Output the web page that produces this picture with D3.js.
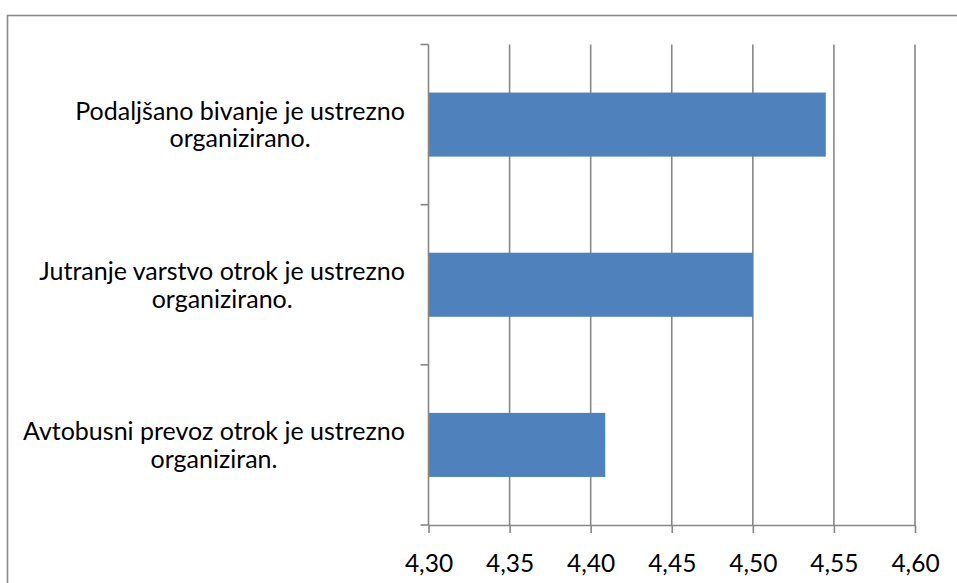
<!DOCTYPE html>
<html>
<head>
<meta charset="utf-8">
<script src="https://cdn.jsdelivr.net/npm/d3@7"></script>
<style>
  html, body { margin: 0; padding: 0; background: #fff; }
  svg { display: block; }
  text { font-family: Lato, "Open Sans", sans-serif; fill: #000; }
</style>
</head>
<body>
<svg id="chart" width="957" height="583"></svg>
<script>
const categories = [
  ["Podaljšano bivanje je ustrezno", "organizirano."],
  ["Jutranje varstvo otrok je ustrezno", "organizirano."],
  ["Avtobusni prevoz otrok je ustrezno", "organiziran."]
];
const values = [4.545, 4.50, 4.409];
const tickValues = [4.30, 4.35, 4.40, 4.45, 4.50, 4.55, 4.60];
const tickLabels = ["4,30", "4,35", "4,40", "4,45", "4,50", "4,55", "4,60"];

const svg = d3.select("#chart");
const plot = { left: 428.5, right: 915, top: 44.5, bottom: 525 };
const gridColor = "#878787";
const barColor = "#4f81bd";

// outer chart border
svg.append("rect")
  .attr("x", 7.5).attr("y", 15.5)
  .attr("width", 1000).attr("height", 1000)
  .attr("fill", "none").attr("stroke", "#8a8a8a").attr("stroke-width", 1.6);

const x = d3.scaleLinear().domain([4.30, 4.60]).range([plot.left, plot.right]);
const y = d3.scaleBand().domain(d3.range(categories.length))
  .range([plot.top, plot.bottom]).paddingInner(0.6).paddingOuter(0.3);
const yTicks = d3.scaleLinear().domain([0, categories.length]).range([plot.top, plot.bottom]);

// vertical gridlines
svg.append("g").selectAll("line").data(tickValues.slice(1)).join("line")
  .attr("x1", d => x(d)).attr("x2", d => x(d))
  .attr("y1", plot.top).attr("y2", plot.bottom)
  .attr("stroke", gridColor).attr("stroke-width", 1.6);

// bars
svg.append("g").selectAll("rect").data(values).join("rect")
  .attr("x", x(4.30))
  .attr("y", (d, i) => y(i))
  .attr("width", d => x(d) - x(4.30))
  .attr("height", y.bandwidth())
  .attr("fill", barColor);

// x axis
const xAxis = d3.axisBottom(x).tickValues(tickValues)
  .tickFormat((d, i) => tickLabels[i]).tickSize(8).tickPadding(22).tickSizeOuter(0);
const gx = svg.append("g").attr("transform", `translate(0,${plot.bottom})`).call(xAxis);
gx.select(".domain").attr("stroke", gridColor).attr("stroke-width", 1.6);
gx.selectAll(".tick line").attr("stroke", gridColor).attr("stroke-width", 1.6);
gx.selectAll(".tick text").attr("font-family", "Lato, sans-serif").attr("font-size", 24.5).attr("fill", "#000");

// y axis line with boundary ticks
const gy = svg.append("g");
gy.append("line").attr("x1", plot.left).attr("x2", plot.left)
  .attr("y1", plot.top).attr("y2", plot.bottom)
  .attr("stroke", gridColor).attr("stroke-width", 1.6);
gy.selectAll("line.t").data(d3.range(categories.length + 1)).join("line").attr("class", "t")
  .attr("x1", plot.left - 8).attr("x2", plot.left)
  .attr("y1", d => yTicks(d)).attr("y2", d => yTicks(d))
  .attr("stroke", gridColor).attr("stroke-width", 1.6);

// category labels: centered block, right-aligned at x = 405
const labelRight = 405;
categories.forEach((lines, i) => {
  const cy = y(i) + y.bandwidth() / 2;
  const g = svg.append("g");
  const texts = lines.map((s, k) => g.append("text")
    .attr("font-size", 25)
    .attr("text-anchor", "middle")
    .attr("dominant-baseline", "central")
    .attr("y", cy + (k - (lines.length - 1) / 2) * 27.5 - 1)
    .text(s));
  const maxW = d3.max(texts, t => t.node().getComputedTextLength());
  texts.forEach(t => t.attr("x", labelRight - maxW / 2));
});
</script>
</body>
</html>
